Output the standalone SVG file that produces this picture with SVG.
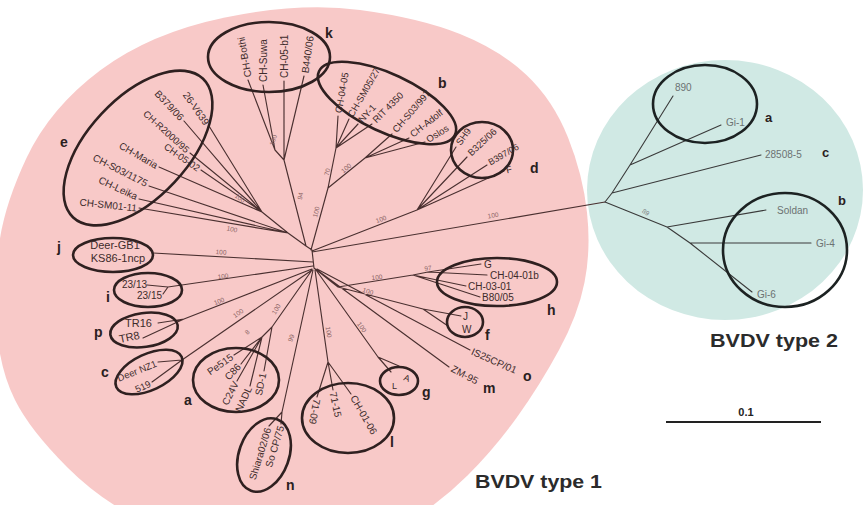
<svg xmlns="http://www.w3.org/2000/svg" width="867" height="505" viewBox="0 0 867 505">
<style>
 text{font-family:"Liberation Sans",Arial,sans-serif}
 .tl{stroke:#4a3030;stroke-width:1.15;fill:none;stroke-linecap:round}
 .t2l{stroke:#3a3a3a;stroke-width:1.1;fill:none;stroke-linecap:round}
 .ov{fill:none;stroke:#2f2020;stroke-width:2.6}
 .ov2{fill:none;stroke:#1c2222;stroke-width:2.6}
 .lb{font-size:10px;fill:#3d2b2b}
 .lb2{font-size:10px;fill:#6c7272}
 .c{dominant-baseline:central}
 .e{text-anchor:end}
 .mid{text-anchor:middle}
 .bs{font-size:6.5px;fill:#8a6464;text-anchor:middle;dominant-baseline:central}
 .gl{font-size:14px;font-weight:bold;fill:#2a2020}
 .ttl{font-size:18px;font-weight:bold;fill:#2b2b2b}
</style>
<rect width="867" height="505" fill="#ffffff"/>
<g id="backgrounds">
 <ellipse id="type2-area" cx="725" cy="190" rx="138" ry="130" fill="#d0e9e4"/>
 <path id="type1-area" fill="#f8c9c8" d="M360,10 Q420,18 460,34 Q500,50 526.5,75 Q553,100 568,137.5 Q583,175 587,212.5 Q591,250 584.5,282.5 Q578,315 559,350 Q540,385 517.5,416.5 Q495,448 467.5,475.5 Q440,503 405,524 Q370,545 285,545 Q200,545 152.5,525 Q105,505 67.5,467.5 Q30,430 15,400 Q0,370 -3,330 Q-6,290 -1.5,249 Q3,208 26.5,158 Q50,108 100,70.5 Q150,33 225,17.5 Q300,2 360,10 Z"/>
</g>
<g id="connectors">
 <path class="tl" d="M312,250 L314,268 M312,250 L306,246
 M306,246 L284,160 M284,160 L275,150 M275,150 L248,80 M275,150 L263,85 M284,160 L284,81 M284,160 L304,76
 M311,250 L328,188 L336,148 M336,148 L338,116 M336,148 L349,119 M336,148 L358,124 M336,148 L372,124 M328,188 L365,158 M365,158 L392,134 M365,158 L409,138 M365,158 L425,142
 M312,251 L417,210 M417,210 L456,147 M417,210 L467,157 M417,210 L487,165 M417,210 L504,171
 M306,246 L288,233 M288,233 L139,208 M288,233 L139,199 M288,233 L149,186 M288,233 L262,212 M262,212 L159,167 M262,212 L201,170 M262,212 L190,153 M262,212 L184,121 M262,212 L209,126
 M313,262 L153,253
 M313,266 L168,287 M168,287 L147,285 M168,287 L163,294
 M312,269 L184,319 M184,319 L158,323 M184,319 L143,338
 M312,270 L182,360 M182,360 L158,362 M182,360 L152,382
 M312,270 L272,327 M272,327 L262,337 M262,337 L234,355 M262,337 L241,364 M262,337 L237,381 M262,337 L250,386 M272,327 L264,371
 M313,270 L282,412 M282,412 L281,424 M282,412 L269,426
 M315,270 L328,362 M328,362 L317,397 M328,362 L333,390 M328,362 L351,394
 M316,270 L378,357 M378,357 L391,372 M378,357 L399,366
 M317,270 L449,367
 M317,269 L470,350
 M314,268 L338,287 M338,287 L423,309 M423,309 L461,316 M423,309 L448,326 M338,287 L413,275 M413,275 L428,272 M428,272 L481,264 M428,272 L487,275 M413,275 L466,286 M413,275 L480,297
 M312,252 L605,202"/>
 <path class="t2l" d="M605,202 L612,193 L630,165 M630,165 L673,96 M630,165 L721,125 M612,193 L761,155 M605,202 L667,227 M667,227 L766,210 M667,227 L690,243 M690,243 L811,243 M690,243 L752,292"/>
</g>
<g id="bootstrap">
 <text class="bs" transform="translate(273 140) rotate(-72)">100</text>
 <text class="bs" transform="translate(300 196) rotate(-78)">94</text>
 <text class="bs" transform="translate(316 212) rotate(-76)">100</text>
 <text class="bs" transform="translate(327 172) rotate(-76)">70</text>
 <text class="bs" transform="translate(346 168) rotate(-40)">100</text>
 <text class="bs" transform="translate(381 219) rotate(-21)">100</text>
 <text class="bs" transform="translate(493 215) rotate(-10)">100</text>
 <text class="bs" transform="translate(240 198) rotate(38)">100</text>
 <text class="bs" transform="translate(232 229) rotate(12)">100</text>
 <text class="bs" transform="translate(221 252) rotate(4)">100</text>
 <text class="bs" transform="translate(223 276) rotate(-7)">100</text>
 <text class="bs" transform="translate(219 301) rotate(-22)">100</text>
 <text class="bs" transform="translate(238 313) rotate(-35)">100</text>
 <text class="bs" transform="translate(276 309) rotate(-58)">100</text>
 <text class="bs" transform="translate(247 332) rotate(-45)">8</text>
 <text class="bs" transform="translate(291 338) rotate(-70)">99</text>
 <text class="bs" transform="translate(329 332) rotate(80)">100</text>
 <text class="bs" transform="translate(362 327) rotate(55)">100</text>
 <text class="bs" transform="translate(368 291) rotate(18)">100</text>
 <text class="bs" transform="translate(377 277) rotate(-6)">100</text>
 <text class="bs" transform="translate(428 268) rotate(-8)">97</text>
 <text class="bs" transform="translate(646 212) rotate(35)" style="fill:#7a7f7f">89</text>
</g>
<g id="clade-k">
 <ellipse class="ov" cx="269" cy="57" rx="61" ry="35"/>
 <text class="lb c" transform="translate(248 77) rotate(-100)">CH-Bothi</text>
 <text class="lb c" transform="translate(263 82) rotate(-90)">CH-Suwa</text>
 <text class="lb c" transform="translate(284 78) rotate(-90)">CH-05-b1</text>
 <text class="lb c" transform="translate(305 73) rotate(-82)">B440/06</text>
 <text class="gl" x="325" y="38">k</text>
</g>
<g id="clade-b1">
 <ellipse class="ov" cx="387" cy="103" rx="75" ry="29" transform="rotate(25 387 103)"/>
 <text class="lb c" transform="translate(338 113) rotate(-80)" style="font-size:9.5px">CH-04-05</text>
 <text class="lb c" transform="translate(350 116) rotate(-60)" style="font-size:9.5px">CH-SM05/27</text>
 <text class="lb c" transform="translate(360 121) rotate(-48)" style="font-size:9.5px">NY-1</text>
 <text class="lb c" transform="translate(374 121) rotate(-45)" style="font-size:9.5px">RIT 4350</text>
 <text class="lb c" transform="translate(394 131) rotate(-49)" style="font-size:9.5px">CH-S03/997</text>
 <text class="lb c" transform="translate(411 135) rotate(-38)" style="font-size:9.5px">CH-Adolf</text>
 <text class="lb c" transform="translate(427 140) rotate(-32)" style="font-size:9.5px">Oslos</text>
 <text class="gl" x="438" y="88">b</text>
</g>
<g id="clade-d">
 <ellipse class="ov" cx="482" cy="150" rx="31" ry="28"/>
 <text class="lb c" transform="translate(458 144) rotate(-55)" style="font-size:9.5px">SH9</text>
 <text class="lb c" transform="translate(469 154) rotate(-43)" style="font-size:9.5px">B325/06</text>
 <text class="lb c" transform="translate(489 163) rotate(-30)" style="font-size:9px">B397/06</text>
 <text class="lb c" transform="translate(506 170) rotate(-15)" style="font-size:9.5px">F</text>
 <text class="gl" x="530" y="173">d</text>
</g>
<g id="clade-e">
 <ellipse class="ov" cx="138" cy="148" rx="95" ry="50" transform="rotate(-47 138 148)"/>
 <text class="lb c e" transform="translate(207 124) rotate(55)">26-V639</text>
 <text class="lb c e" transform="translate(182 119) rotate(47)">B379/06</text>
 <text class="lb c e" transform="translate(188 151) rotate(42)" style="font-size:9.5px">CH-R2000/95</text>
 <text class="lb c e" transform="translate(199 169) rotate(35)" style="font-size:9.5px">CH-05-02</text>
 <text class="lb c e" transform="translate(157 166) rotate(30)">CH-Maria</text>
 <text class="lb c e" transform="translate(147 184) rotate(27)">CH-S03/1175</text>
 <text class="lb c e" transform="translate(137 197) rotate(25)">CH-Leika</text>
 <text class="lb c e" transform="translate(137 208) rotate(6)">CH-SM01-11</text>
 <text class="gl" x="60" y="147">e</text>
</g>
<g id="clade-j">
 <ellipse class="ov" cx="113" cy="255" rx="40" ry="17"/>
 <text class="lb mid" x="115" y="249" style="font-size:11px">Deer-GB1</text>
 <text class="lb mid" x="118" y="262" style="font-size:11px">KS86-1ncp</text>
 <text class="gl" x="57" y="252">j</text>
</g>
<g id="clade-i">
 <ellipse class="ov" cx="148" cy="290" rx="34" ry="17"/>
 <text class="lb" x="122" y="288">23/13</text>
 <text class="lb" x="137" y="299">23/15</text>
 <text class="gl" x="106" y="302">i</text>
</g>
<g id="clade-p">
 <ellipse class="ov" cx="144" cy="330" rx="34" ry="17" transform="rotate(-8 144 330)"/>
 <text class="lb" x="125" y="327" style="font-size:11px">TR16</text>
 <text class="lb" transform="translate(120 343) rotate(-12)" style="font-size:11px">TR8</text>
 <text class="gl" x="94" y="337">p</text>
</g>
<g id="clade-c1">
 <ellipse class="ov" cx="149" cy="372" rx="36" ry="18" transform="rotate(-25 149 372)"/>
 <text class="lb c e" transform="translate(156 363) rotate(-22)" style="font-size:9.5px">Deer NZ1</text>
 <text class="lb c e" transform="translate(150 383) rotate(-25)" style="font-size:9.5px">519</text>
 <text class="gl" x="101" y="377">c</text>
</g>
<g id="clade-a1">
 <ellipse class="ov" cx="236" cy="380" rx="43" ry="32"/>
 <text class="lb c e" transform="translate(232 356) rotate(-35)">Pe515</text>
 <text class="lb c e" transform="translate(239 365) rotate(-47)">C86</text>
 <text class="lb c e" transform="translate(236 382) rotate(-63)">C24V</text>
 <text class="lb c e" transform="translate(249 387) rotate(-66)">NADL</text>
 <text class="lb c e" transform="translate(263 373) rotate(-78)">SD-1</text>
 <text class="gl" x="184" y="405">a</text>
</g>
<g id="clade-n">
 <ellipse class="ov" cx="264" cy="455" rx="25" ry="38" transform="rotate(20 264 455)"/>
 <text class="lb c e" transform="translate(268 428) rotate(-73)">Shiara02/06</text>
 <text class="lb c e" transform="translate(281 426) rotate(-73)">So CP/75</text>
 <text class="gl" x="286" y="490">n</text>
</g>
<g id="clade-l">
 <ellipse class="ov" cx="348" cy="418" rx="46" ry="35"/>
 <text class="lb c" transform="translate(317 399) rotate(100)">71-09</text>
 <text class="lb c" transform="translate(333 392) rotate(78)">71-15</text>
 <text class="lb c" transform="translate(353 396) rotate(60)">CH-01-06</text>
 <text class="gl" x="390" y="447">l</text>
</g>
<g id="clade-g">
 <ellipse class="ov" cx="399" cy="381" rx="19" ry="14"/>
 <text class="lb" transform="translate(403 380) rotate(20)" style="font-size:9px">A</text>
 <text class="lb" x="392" y="389" style="font-size:9px">L</text>
 <text class="gl" x="422" y="397">g</text>
</g>
<g id="clade-f">
 <ellipse class="ov" cx="465" cy="322" rx="18" ry="15"/>
 <text class="lb" x="463" y="320">J</text>
 <text class="lb" x="462" y="333">W</text>
 <text class="gl" x="485" y="340">f</text>
</g>
<g id="clade-h">
 <ellipse class="ov" cx="497" cy="282" rx="60" ry="24"/>
 <text class="lb" x="484" y="268">G</text>
 <text class="lb" x="490" y="279">CH-04-01b</text>
 <text class="lb" x="468" y="290">CH-03-01</text>
 <text class="lb" x="482" y="301">B80/05</text>
 <text class="gl" x="547" y="315">h</text>
</g>
<g id="clade-o">
 <text class="lb c" transform="translate(472 351) rotate(24)">IS25CP/01</text>
 <text class="gl" x="523" y="381">o</text>
</g>
<g id="clade-m">
 <text class="lb c" transform="translate(452 368) rotate(28)">ZM-95</text>
 <text class="gl" x="483" y="393">m</text>
</g>
<g id="type2-a">
 <ellipse class="ov2" cx="705" cy="104" rx="52" ry="39"/>
 <text class="lb2" x="675" y="91">890</text>
 <text class="lb2" x="726" y="126">Gi-1</text>
 <text class="gl" x="765" y="122" style="font-size:13px">a</text>
</g>
<g id="type2-c">
 <text class="lb2" x="765" y="158">28508-5</text>
 <text class="gl" x="822" y="157" style="font-size:13px">c</text>
</g>
<g id="type2-b">
 <ellipse class="ov2" cx="785" cy="250" rx="62" ry="57"/>
 <text class="lb2" x="777" y="214">Soldan</text>
 <text class="lb2" x="816" y="247">Gi-4</text>
 <text class="lb2" x="757" y="298">Gi-6</text>
 <text class="gl" x="838" y="205" style="font-size:13px">b</text>
</g>
<g id="titles">
 <text class="ttl" x="475" y="488" textLength="127" lengthAdjust="spacingAndGlyphs">BVDV type 1</text>
 <text class="ttl" x="710" y="347" textLength="128" lengthAdjust="spacingAndGlyphs">BVDV type 2</text>
</g>
<g id="scale-bar">
 <line x1="666" y1="422" x2="821" y2="422" stroke="#222" stroke-width="2"/>
 <text x="746" y="416" text-anchor="middle" font-size="11" font-weight="bold" fill="#222">0.1</text>
</g>
</svg>
